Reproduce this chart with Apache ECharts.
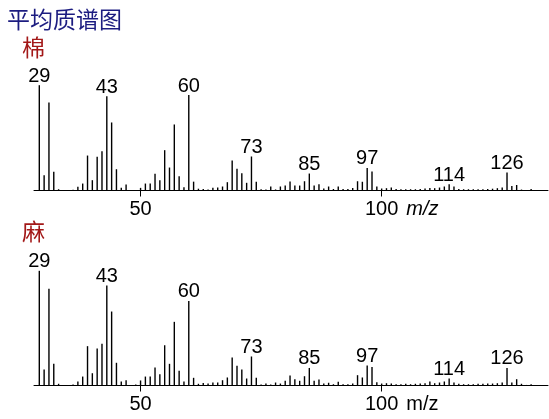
<!DOCTYPE html>
<html>
<head>
<meta charset="utf-8">
<script src="https://cdn.jsdelivr.net/npm/echarts@6/dist/echarts.min.js"></script>
<style>
html,body{margin:0;padding:0;background:#fff;}
#chart{width:549px;height:419px;}
</style>
</head>
<body>
<div id="chart"></div>
<script>
// m/z values (29 .. 132)
const mz = [29,30,31,32,33,34,35,36,37,38,
  39,40,41,42,43,44,45,46,47,48,
  49,50,51,52,53,54,55,56,57,58,
  59,60,61,62,63,64,65,66,67,68,
  69,70,71,72,73,74,75,76,77,78,
  79,80,81,82,83,84,85,86,87,88,
  89,90,91,92,93,94,95,96,97,98,
  99,100,101,102,103,104,105,106,107,108,
  109,110,111,112,113,114,115,116,117,118,
  119,120,121,122,123,124,125,126,127,128,
  129,130,131,132];

// 棉 relative abundance (%)
const cotton = [100,14.5,83.6,17.8,1.2,0,0,0.7,3.5,6.6,
  33.2,9.8,32.0,37.3,89.6,64.6,20.2,2.6,5.7,0,
  0.5,2.5,6.6,6.6,15.9,9.8,38.3,21.8,62.7,13.6,
  3.1,90.7,8.4,1.7,1.4,1.0,2.6,2.8,3.8,7.9,
  28.5,20.6,16.4,7.3,32.3,8.3,1.2,1.0,3.8,1.0,
  3.8,4.7,8.5,4.7,4.7,8.8,16.1,4.7,6.0,1.9,
  3.8,1.4,3.8,1.4,1.4,2.4,8.8,8.3,21.4,18.0,
  3.8,1.9,2.2,2.8,1.4,1.2,1.2,1.2,1.2,1.4,
  1.9,2.4,2.2,2.8,3.8,6.0,3.8,1.4,1.2,1.2,
  1.2,1.2,1.2,1.4,1.7,2.2,2.8,17.1,4.3,5.2,
  0.9,0.5,1.4,0.5];

// 麻 relative abundance (%)
const hemp = [100,13.9,84.3,18.9,1.5,0,0,0.9,3.5,7.8,
  34.3,10.7,32.3,36.4,87.2,64.5,19.8,3.5,4.6,0,
  0.9,4.4,7.8,7.8,15.7,9.9,35.1,18.9,55.5,12.8,
  3.5,73.7,6.7,1.5,2.2,1.7,2.6,2.6,4.6,7.0,
  24.4,17.2,13.9,6.1,25.3,6.7,0.9,1.7,0.9,2.6,
  1.7,4.1,8.7,5.5,4.1,8.1,15.3,4.1,5.2,1.7,
  2.4,1.1,3.2,1.1,1.1,1.7,9.0,7.0,17.4,16.1,
  2.9,1.7,2.0,1.7,1.1,1.1,1.5,1.1,1.5,1.7,
  2.0,3.5,2.0,2.6,3.5,6.1,2.6,1.5,1.1,1.1,
  1.1,1.5,1.5,1.7,1.7,2.0,2.6,15.3,2.6,5.5,
  1.5,0.5,1.1,0];

// labelled peaks
const labelledPeaks = [29,43,60,73,85,97,114,126];
// x-axis tick values
const xTicks = [50,100];

const numFont = '"Liberation Sans", Arial, sans-serif';
const cjkFont = '"Noto Sans CJK SC", sans-serif';

function pairs(vals){ return mz.map((m,i)=>[m, vals[i]]); }

function makeXAxis(idx, italicUnit){
  return {
    type:'value', gridIndex:idx, min:27.9, max:134.5,
    axisLine:{show:true, onZero:false, lineStyle:{color:'#000', width:1}},
    axisTick:{show:true, customValues:xTicks, length:6, lineStyle:{color:'#000', width:1}},
    splitLine:{show:false},
    axisLabel:{
      customValues:xTicks, margin:9, color:'#000', fontFamily:numFont, fontSize:20,
      formatter:function(v){
        if (v === 100) return '{p|}{n|100}{u|m/z}';
        return '{n|' + v + '}';
      },
      rich:{
        p:{width:40},
        n:{fontFamily:numFont, fontSize:20, color:'#000'},
        u:{fontFamily:numFont, fontSize:20, color:'#000', fontStyle: italicUnit ? 'italic' : 'normal', padding:[0,0,0,8], width:32}
      }
    }
  };
}

function makeSeries(idx, vals){
  return {
    type:'bar', xAxisIndex:idx, yAxisIndex:idx,
    data:pairs(vals), barWidth:1.4,
    itemStyle:{color:'#000'},
    label:{
      show:true, position:'top', distance:-1, color:'#000',
      fontFamily:numFont, fontSize:20,
      formatter:function(p){ return labelledPeaks.indexOf(p.value[0]) >= 0 ? String(p.value[0]) : ''; }
    },
    silent:true
  };
}

const chart = echarts.init(document.getElementById('chart'), null, {renderer:'canvas'});
chart.setOption({
  animation:false,
  backgroundColor:'#fff',
  title:[
    {text:'平均质谱图', left:7, top:8, padding:0, textStyle:{fontFamily:cjkFont, fontSize:23, fontWeight:'normal', color:'#1c1c80'}},
    {text:'棉', left:22, top:36, padding:0, textStyle:{fontFamily:cjkFont, fontSize:23, fontWeight:'normal', color:'#a31818'}},
    {text:'麻', left:22, top:220, padding:0, textStyle:{fontFamily:cjkFont, fontSize:23, fontWeight:'normal', color:'#a31818'}}
  ],
  grid:[
    {left:34, right:1, top:85.2, height:105.3},
    {left:34, right:1, top:270.8, height:114.7}
  ],
  xAxis:[ makeXAxis(0, true), makeXAxis(1, false) ],
  yAxis:[
    {type:'value', gridIndex:0, min:0, max:100, show:false},
    {type:'value', gridIndex:1, min:0, max:100, show:false}
  ],
  series:[ makeSeries(0, cotton), makeSeries(1, hemp) ]
});
</script>
</body>
</html>
